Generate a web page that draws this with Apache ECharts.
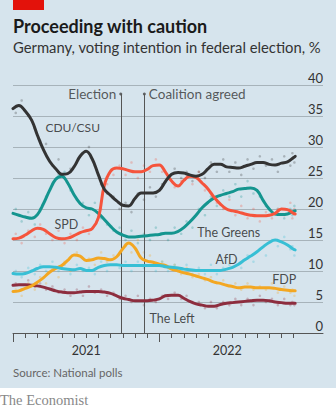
<!DOCTYPE html>
<html><head><meta charset="utf-8">
<script src="https://cdn.jsdelivr.net/npm/echarts@6/dist/echarts.min.js"></script>
<style>html,body{margin:0;padding:0;background:#fff}#c{width:336px;height:408px}</style>
</head><body><div id="c"></div>
<script>
// ---- data: smoothed trend lines ----
const dates = [
 '2021-01-01','2021-01-16','2021-02-01','2021-02-16','2021-03-01','2021-03-16','2021-04-01','2021-04-16',
 '2021-05-01','2021-05-16','2021-06-01','2021-06-16','2021-07-01','2021-07-16','2021-08-01','2021-08-16',
 '2021-09-01','2021-09-16','2021-10-01','2021-10-16','2021-11-01','2021-11-16','2021-12-01','2021-12-16',
 '2022-01-01','2022-01-16','2022-02-01','2022-02-16','2022-03-01','2022-03-16','2022-04-01','2022-04-16',
 '2022-05-01','2022-05-16','2022-06-01','2022-06-16','2022-07-01','2022-07-16','2022-08-01','2022-08-16',
 '2022-09-01','2022-09-16','2022-10-01','2022-10-16','2022-11-01','2022-11-16','2022-12-01','2022-12-05'];
const cduCsu = [36.2,36.7,35.8,34.3,31.9,29.6,27.7,26.5,25.6,25.7,26.8,28.5,29.3,28.1,25.5,23.2,22.2,21.3,20.6,20.5,21.7,22.6,22.6,22.6,23.0,24.4,25.6,25.9,25.8,25.5,25.3,25.6,26.5,27.2,27.2,26.8,26.7,26.6,26.9,27.2,27.5,27.5,27.2,27.1,27.4,27.6,28.3,28.5];
const greens = [19.3,19.0,18.7,18.5,19.1,20.8,23.0,24.8,25.3,24.2,22.3,20.9,20.2,20.0,19.3,18.3,17.2,16.3,15.8,15.5,15.5,15.6,15.7,15.8,15.9,16.1,16.1,16.4,17.0,17.9,19.0,20.2,21.1,21.8,22.2,22.5,22.8,23.2,23.3,23.4,23.0,21.4,20.0,19.2,19.1,19.2,19.6,19.7];
const spd = [15.2,15.3,15.8,16.5,16.9,16.7,16.0,15.4,15.2,15.3,15.7,16.2,16.5,16.8,18.6,23.8,26.1,26.6,26.5,26.2,26.0,26.0,26.4,27.0,27.1,26.0,24.5,23.7,24.6,25.3,25.1,24.2,23.2,21.9,20.8,20.0,19.7,19.5,19.2,19.0,18.9,18.9,19.0,19.3,20.0,19.9,19.3,19.2];
const afd = [9.6,9.5,9.6,10.0,10.4,10.7,10.7,10.6,10.4,10.3,10.2,10.4,10.1,10.1,10.6,10.9,11.0,11.0,10.9,10.9,10.9,10.9,10.9,10.9,10.9,10.7,10.6,10.5,10.3,10.2,10.1,10.1,10.1,10.1,10.1,10.3,10.6,11.1,11.8,12.4,13.1,13.9,14.6,15.0,14.7,14.2,13.5,13.4];
const fdp = [6.7,6.8,7.2,7.6,8.2,8.9,9.8,10.4,10.9,11.7,12.6,12.4,11.7,11.8,12.1,12.0,11.8,12.3,13.6,14.5,13.7,12.1,11.6,11.4,11.1,10.9,10.3,10.0,9.7,9.5,9.2,8.9,8.6,8.2,8.0,7.7,7.5,7.3,7.4,7.4,7.3,7.3,7.3,7.2,7.0,6.9,6.8,6.8];
const theLeft = [7.7,7.8,7.8,7.7,7.6,7.4,7.1,6.8,6.6,6.5,6.5,6.6,6.7,6.7,6.7,6.6,6.4,6.0,5.6,5.4,5.2,5.2,5.2,5.3,5.5,6.0,6.1,6.1,5.6,5.1,4.7,4.5,4.3,4.3,4.6,4.8,4.9,5.0,5.1,5.2,5.3,5.3,5.2,5.0,4.9,4.8,4.8,4.8];

// ---- data: individual polls (faint dots) ----
const pollDates = [
 '2021-01-08','2021-01-23','2021-02-08','2021-02-23','2021-03-08','2021-03-23','2021-04-08','2021-04-23',
 '2021-05-08','2021-05-23','2021-06-08','2021-06-23','2021-07-08','2021-07-23','2021-08-08','2021-08-23',
 '2021-09-08','2021-09-23','2021-10-08','2021-10-23','2021-11-08','2021-11-23','2021-12-08','2021-12-23',
 '2022-01-08','2022-01-23','2022-02-08','2022-02-23','2022-03-08','2022-03-23','2022-04-08','2022-04-23',
 '2022-05-08','2022-05-23','2022-06-08','2022-06-23','2022-07-08','2022-07-23','2022-08-08','2022-08-23',
 '2022-09-08','2022-09-23','2022-10-08','2022-10-23','2022-11-08','2022-11-23','2022-11-28','2022-12-03'];
const pollsCduCsu = [35.5,37.5,35,33,31,30.5,27,28,25,26.5,27.5,29,30,27,24,22.5,22,20,21,19.5,22.5,21.5,23.5,22,24,25,26.5,25,26,24.5,26,25,27.5,26,28,26,27.5,25.5,28,26.5,28.5,27,28,26,28.5,27,29,27.5];
const pollsGreens = [20,18,19.5,17.5,20,22,24,25.5,26,23,21.5,21,19,21,18.5,17.5,16.5,17,15,16.5,14.5,16,15,17,16,15,17,16,18,17,20,19,22,20.5,23,22,24,22,24.5,22.5,22,20.5,19,20,18.5,20,19,20.5];
const pollsSpd = [16,14.5,16.5,15.5,17.5,16,15,16.5,14.5,16,15,17,16,17.5,20,24,25.5,27,25.5,27.5,25,27,26,28,26,25,23.5,24.5,25.5,24,26,23,22.5,21,20,21.5,19,20.5,18.5,20,18,19.5,18.5,20,19,21,18.5,20];
const pollsAfd = [10,9,10.5,9.5,11,10,11.5,10,11,9.5,11,10,10.5,9.5,11.5,10,12,10.5,11.5,10,11.5,10.5,11.5,10,11.5,10,11,10,11,9.5,10.5,9.5,11,9.5,10.5,11,11.5,10.5,12.5,11.5,13.5,12.5,15,14,15.5,13.5,14,12.5];
const pollsFdp = [7,6,8,7,9,8,10.5,9,11.5,10,13,12,12,11,13,11.5,12.5,11,14,13,15,13,12.5,11,11.5,10.5,11,9.5,10.5,9,9.5,8.5,9,8,8.5,7.5,8,7,8,7,7.5,7,8,6.5,7.5,6.5,7,6];
const pollsLeft = [8,7,8.5,7.5,8,7,7.5,6.5,7,6,7,6,7.5,6.5,7,6,6.5,5.5,6,5,6,4.5,5.5,5,6,5.5,6.5,5.5,6,5,5,4,5,4,5,4.5,5.5,4.5,5.5,4.5,6,5,5.5,4.5,5.5,4.5,5,4.5];

const eventDates = ['2021-09-26','2021-11-24'];
const eventLabels = ['Election','Coalition agreed'];
const yearLabels = ['2021','2022'];
const yTicks = [0,5,10,15,20,25,30,35,40];

// ---- helpers ----
function toM(s){const [y,m,d]=s.split('-').map(Number);const dim=new Date(Date.UTC(y,m,0)).getUTCDate();return (y-2021)*12+(m-1)+(d-1)/dim;}
const xs = dates.map(toM);
const pxs = pollDates.map(toM);
const endM = xs[xs.length-1];
const XMAX = 310/12.2;
const monthTicks = Array.from({length:24},(_,i)=>i);
const yearTicks = [0,12];
const yearLabelPos = [6, (12+endM)/2];
const EVENT_TOP = 38.55;
const FONT = 'Lato, "Noto Sans", sans-serif';

const parties = [
 {name:'The Left', data:theLeft, polls:pollsLeft, color:'#8d2d3e', size:12.5},
 {name:'FDP', data:fdp, polls:pollsFdp, color:'#f3a722', size:12.5},
 {name:'AfD', data:afd, polls:pollsAfd, color:'#37bfd5', size:12.5},
 {name:'The Greens', data:greens, polls:pollsGreens, color:'#14958f', size:12.5},
 {name:'SPD', data:spd, polls:pollsSpd, color:'#f5543c', size:12.5},
 {name:'CDU/CSU', data:cduCsu, polls:pollsCduCsu, color:'#333333', size:12}
];
// label anchor positions (month index, value)
const labelLayout = {
 'CDU/CSU':[2.62,33.2], 'SPD':[3.36,17.5], 'The Greens':[15.06,16.2],
 'AfD':[16.56,11.85], 'FDP':[21.2,8.6], 'The Left':[11.15,2.4]
};

const chart = echarts.init(document.getElementById('c'), null, {renderer:'svg', width:336, height:408});
const series = [];
parties.forEach((p,i)=>{
  series.push({type:'scatter', xAxisIndex:0, yAxisIndex:0, symbol:'circle', symbolSize:2.6, silent:true,
    itemStyle:{color:p.color, opacity:0.28}, data: pxs.map((x,j)=>[x,p.polls[j]]), z:2});
});
parties.forEach((p,i)=>{
  series.push({
  type:'line', name:p.name, xAxisIndex:0, yAxisIndex:0, smooth:0.4, symbol:'none',
  data: xs.map((x,j)=>[x,p.data[j]]), lineStyle:{width:3, color:p.color, cap:'round', join:'round'}, z:5+i});
});
series.push({
  type:'scatter', xAxisIndex:0, yAxisIndex:0, symbolSize:3, itemStyle:{color:'#444'}, z:3,
  data: eventDates.map((d,i)=>({value:[toM(d),EVENT_TOP], label:{show:true, position:i===0?'left':'right', distance:3, formatter:eventLabels[i], color:'#333', fontSize:13.5, fontFamily:FONT}})),
  markLine:{silent:true, symbol:'none', animation:false, label:{show:false}, lineStyle:{color:'#555', width:1, type:'solid'},
    data: eventDates.map(d=>[{coord:[toM(d),0]},{coord:[toM(d),EVENT_TOP]}])}
});
series.push({
  type:'scatter', xAxisIndex:0, yAxisIndex:0, symbolSize:1, itemStyle:{color:'transparent'}, z:20,
  data: parties.map(p=>({value:labelLayout[p.name], label:{show:true, position:'right', distance:0, formatter:p.name, color:'#222', fontSize:p.size, fontFamily:FONT}}))
});

chart.setOption({
  animation:false,
  textStyle:{fontFamily:FONT},
  grid:[{left:13,right:13,top:85,bottom:75},{left:13,right:13,top:85,bottom:75}],
  xAxis:[
   {type:'value', gridIndex:0, min:0, max:XMAX, splitLine:{show:false},
    axisLine:{show:true, lineStyle:{color:'#555', width:1}},
    axisTick:{show:true, customValues:monthTicks, length:5, lineStyle:{color:'#555', width:1}},
    axisLabel:{show:true, customValues:yearLabelPos, margin:11, color:'#333', fontSize:12.5,
      formatter:(v)=>{const i=yearLabelPos.findIndex(p=>Math.abs(p-v)<1e-6);return i>=0?yearLabels[i]:'';}}},
   {type:'value', gridIndex:1, min:0, max:XMAX, splitLine:{show:false}, axisLine:{show:false},
    axisTick:{show:true, customValues:yearTicks, length:9, lineStyle:{color:'#555', width:1}}, axisLabel:{show:false}}
  ],
  yAxis:[
   {type:'value', gridIndex:0, min:0, max:40, interval:5, position:'right',
    axisLine:{show:false}, axisTick:{show:false},
    axisLabel:{inside:true, margin:0, color:'#333', fontSize:13, verticalAlign:'bottom', padding:[0,0,1,0],
      formatter:(v)=>yTicks.includes(v)?String(v):''},
    splitLine:{show:true, lineStyle:{color:'#a7b3ba', width:1}}},
   {type:'value', gridIndex:1, min:0, max:40, show:false}
  ],
  graphic:[
   {type:'rect', shape:{x:0,y:0,width:336,height:388}, style:{fill:'#d6e4ed'}, z:-10, silent:true},
   {type:'rect', shape:{x:13,y:0,width:31,height:10}, style:{fill:'#e3120b'}, z:1},
   {type:'text', x:13, y:26, style:{text:'Proceeding with caution', fill:'#1a1a1a', font:'bold 18px '+FONT, verticalAlign:'middle'}, z:1},
   {type:'text', x:13, y:47, style:{text:'Germany, voting intention in federal election, %', fill:'#333', font:'14.8px '+FONT, verticalAlign:'middle'}, z:1},
   {type:'text', x:13, y:372, style:{text:'Source: National polls', fill:'#666', font:'11.5px '+FONT, verticalAlign:'middle'}, z:1},
   {type:'text', x:0, y:400, style:{text:'The Economist', fill:'#888', font:'14.5px "Liberation Serif", "DejaVu Serif", serif', verticalAlign:'middle'}, z:1}
  ],
  series:series
});
</script></body></html>
